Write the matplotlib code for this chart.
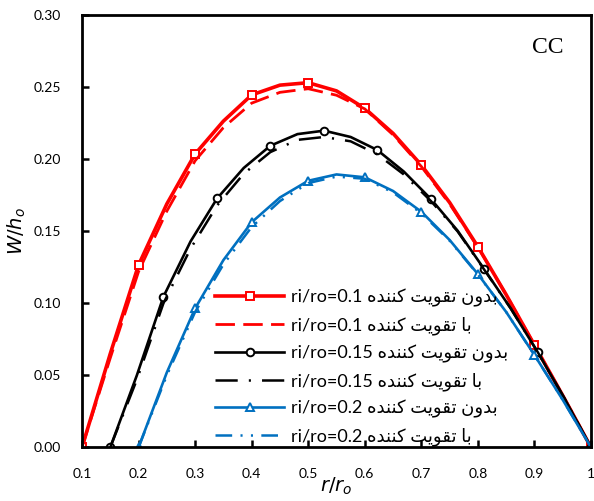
import matplotlib
matplotlib.use('Agg')
import matplotlib.pyplot as plt

# r/ro positions and W/ho values (half-steps between markers)
x_01 = [0.10, 0.15, 0.20, 0.25, 0.30, 0.35, 0.40, 0.45, 0.50, 0.55,
        0.60, 0.65, 0.70, 0.75, 0.80, 0.85, 0.90, 0.95, 1.00]
w_01_plain = [0.0, 0.065, 0.1266, 0.169, 0.2037, 0.2265, 0.2447, 0.2515, 0.2532, 0.2475,
              0.2354, 0.218, 0.196, 0.170, 0.1393, 0.106, 0.071, 0.036, 0.0]
w_01_stiff = [0.0, 0.062, 0.122, 0.164, 0.199, 0.222, 0.239, 0.2465, 0.249, 0.2445,
              0.235, 0.217, 0.195, 0.169, 0.139, 0.106, 0.071, 0.036, 0.0]

x_015 = [0.15, 0.197, 0.244, 0.292, 0.339, 0.386, 0.433, 0.481, 0.528, 0.575,
         0.622, 0.669, 0.717, 0.764, 0.811, 0.858, 0.906, 0.953, 1.0]
w_015_plain = [0.0, 0.050, 0.1046, 0.143, 0.1729, 0.194, 0.2094, 0.2175, 0.2199, 0.2155,
               0.2065, 0.1915, 0.1724, 0.1505, 0.1238, 0.0965, 0.066, 0.034, 0.0]
w_015_stiff = [0.0, 0.047, 0.100, 0.138, 0.168, 0.190, 0.205, 0.2135, 0.2155, 0.2125,
               0.2035, 0.1895, 0.171, 0.150, 0.1235, 0.0965, 0.066, 0.034, 0.0]

x_02 = [0.20, 0.25, 0.30, 0.35, 0.40, 0.45, 0.50, 0.55, 0.60,
        0.65, 0.70, 0.75, 0.80, 0.85, 0.90, 0.95, 1.00]
w_02_plain = [0.0, 0.052, 0.0965, 0.130, 0.1563, 0.1735, 0.1851, 0.1895, 0.1875,
              0.178, 0.1636, 0.144, 0.1203, 0.094, 0.0641, 0.033, 0.0]
w_02_stiff = [0.0, 0.050, 0.094, 0.127, 0.153, 0.171, 0.1835, 0.188, 0.1865,
              0.177, 0.1625, 0.1435, 0.120, 0.094, 0.064, 0.033, 0.0]

x_ticks = [0.1, 0.2, 0.3, 0.4, 0.5, 0.6, 0.7, 0.8, 0.9, 1.0]
x_ticklabels = ['0.1', '0.2', '0.3', '0.4', '0.5', '0.6', '0.7', '0.8', '0.9', '1']
y_ticks = [0.0, 0.05, 0.10, 0.15, 0.20, 0.25, 0.30]

txt_plain = 'بدون تقویت کننده'
txt_stiff = 'با تقویت کننده'

# contextual forms: isolated, final, initial, medial
FORMS = {
    'ب': ('\uFE8F', '\uFE90', '\uFE91', '\uFE92'),
    'ت': ('\uFE95', '\uFE96', '\uFE97', '\uFE98'),
    'ق': ('\uFED5', '\uFED6', '\uFED7', '\uFED8'),
    'ن': ('\uFEE5', '\uFEE6', '\uFEE7', '\uFEE8'),
    'ه': ('\uFEE9', '\uFEEA', '\uFEEB', '\uFEEC'),
    'ی': ('\uFBFC', '\uFBFD', '\uFBFE', '\uFBFF'),
    'ک': ('\uFB8E', '\uFB8F', '\uFB90', '\uFB91'),
    'ا': ('\uFE8D', '\uFE8E', None, None),
    'د': ('\uFEA9', '\uFEAA', None, None),
    'و': ('\uFEED', '\uFEEE', None, None),
}


def rtl(text):
    # shape persian letters and flip to visual order
    out = []
    for i, ch in enumerate(text):
        if ch not in FORMS:
            out.append(ch)
            continue
        prev = i > 0 and text[i - 1] in FORMS and FORMS[text[i - 1]][2] is not None
        nxt = (i < len(text) - 1 and text[i + 1] in FORMS
               and FORMS[ch][2] is not None)
        if prev and nxt:
            out.append(FORMS[ch][3])
        elif prev:
            out.append(FORMS[ch][1])
        elif nxt:
            out.append(FORMS[ch][2])
        else:
            out.append(FORMS[ch][0])
    return ''.join(reversed(out))


plt.rcParams['font.family'] = ['Lato', 'DejaVu Sans']
plt.rcParams['lines.scale_dashes'] = False

fig = plt.figure(figsize=(5.94, 5.01), dpi=100)
ax = fig.add_axes([0.138, 0.107, 0.857, 0.8625])

red = '#FF0000'
blue = '#0070C0'

ax.plot(x_01, w_01_plain, color=red, lw=2.6, marker='s', markevery=2, ms=5.5,
        mfc='white', mec=red, mew=1.4, label='ri/ro=0.1 ' + rtl(txt_plain))
ax.plot(x_01, w_01_stiff, color=red, lw=2.0, dashes=(14, 6),
        label='ri/ro=0.1 ' + rtl(txt_stiff))
ax.plot(x_015, w_015_plain, color='black', lw=1.9, marker='o', markevery=2, ms=5.5,
        mfc='white', mec='black', mew=1.4, label='ri/ro=0.15 ' + rtl(txt_plain))
ax.plot(x_015, w_015_stiff, color='black', lw=1.8, dashes=(16, 8, 1.5, 8),
        label='ri/ro=0.15 ' + rtl(txt_stiff))
ax.plot(x_02, w_02_plain, color=blue, lw=1.9, marker='^', markevery=2, ms=5.5,
        mfc='white', mec=blue, mew=1.4, label='ri/ro=0.2 ' + rtl(txt_plain))
ax.plot(x_02, w_02_stiff, color=blue, lw=1.8, dashes=(12, 6, 1.5, 6, 1.5, 6),
        label='ri/ro=0.2 ' + rtl(txt_stiff))

ax.set_xlim(0.1, 1.0)
ax.set_ylim(0.0, 0.30)
ax.set_xticks(x_ticks)
ax.set_xticklabels(x_ticklabels)
ax.set_yticks(y_ticks)
ax.set_yticklabels(['%.2f' % v for v in y_ticks])
ax.tick_params(direction='in', length=5, width=1.8, labelsize=10, pad=15)

for s in ax.spines.values():
    s.set_linewidth(2.0)

ax.set_xlabel(r'$r/r_o$', fontsize=14, labelpad=-3)
ax.set_ylabel(r'$W/h_o$', fontsize=14, labelpad=4)

ax.text(0.915, 0.925, 'CC', transform=ax.transAxes, fontsize=17,
        family='Liberation Serif', ha='center', va='center')

ax.legend(loc='lower left', bbox_to_anchor=(0.23, -0.035), frameon=False,
          fontsize=13, handlelength=3.8, handletextpad=0.4, labelspacing=0.52,
          numpoints=1)

plt.savefig('out.png', dpi=100)
